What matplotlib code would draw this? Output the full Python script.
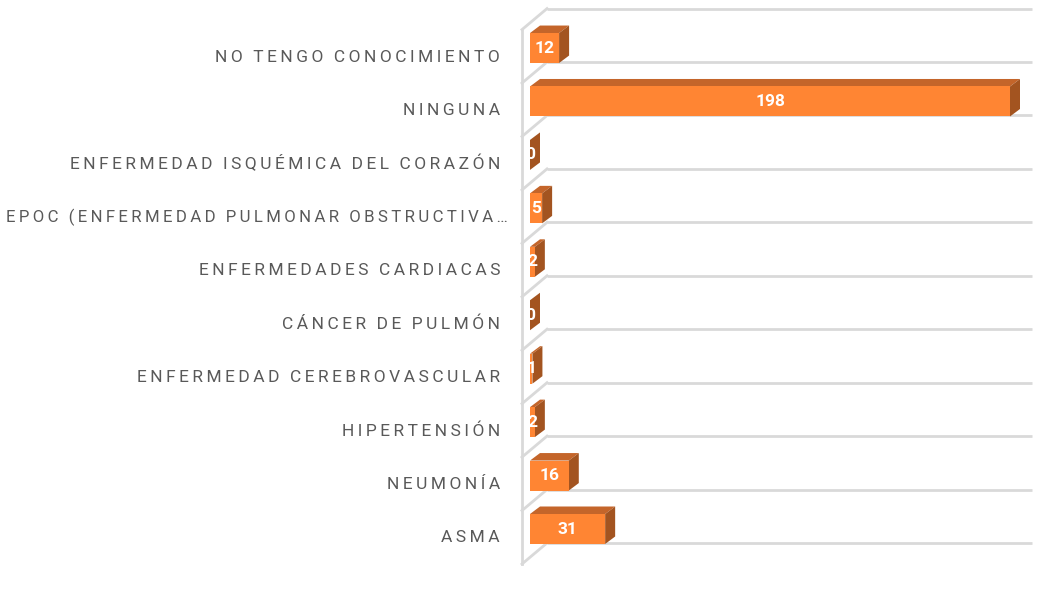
import matplotlib
matplotlib.use('Agg')
import matplotlib.pyplot as plt
from matplotlib.patches import Polygon, Rectangle

categories = ['ASMA', 'NEUMONÍA', 'HIPERTENSIÓN', 'ENFERMEDAD CEREBROVASCULAR',
              'CÁNCER DE PULMÓN', 'ENFERMEDADES CARDIACAS',
              'EPOC (ENFERMEDAD PULMONAR OBSTRUCTIVA…',
              'ENFERMEDAD ISQUÉMICA DEL CORAZÓN', 'NINGUNA', 'NO TENGO CONOCIMIENTO']
values = [31, 16, 2, 1, 0, 2, 5, 0, 198, 12]
axis_max = 200

W, H = 1058, 597
fig = plt.figure(figsize=(W / 100, H / 100), dpi=100)
ax = fig.add_axes([0, 0, 1, 1])
ax.axis('off')

# pixel scale: value 0 at x=530, 198 at x=1010; category pitch 53.44 px
kx = 480 / 198.0
ky = 53.44
x0_px, y0_px = 530, 529
ax.set_xlim(-x0_px / kx, (W - x0_px) / kx)
ax.set_ylim((y0_px - H) / ky, y0_px / ky)

front = '#FF8533'
top = '#C4652A'
side = '#A35420'
grid = '#D9D9D9'

# depth of the boxes and of the back wall
dx, dy = 10 / kx, 7.5 / ky
half = 15 / ky
wall_dx, wall_dy = 25 / kx, 21 / ky
floor = -half + 1 / ky          # back gridline level relative to category
back_x0 = 17 / kx

n = len(categories)
for k in range(n + 1):
    yb = k + floor
    ax.plot([back_x0, axis_max + back_x0], [yb, yb], color=grid, lw=2,
            solid_capstyle='butt', zorder=1)
    ax.plot([back_x0 - wall_dx, back_x0], [yb - wall_dy, yb], color=grid, lw=2,
            zorder=1)
ax.plot([back_x0 - wall_dx] * 2, [floor - wall_dy, n + floor - wall_dy],
        color=grid, lw=2, zorder=1)


def spread(s):
    # rough letter spacing with thin spaces
    return '\u2009\u2009\u2009'.join('\u2009'.join(w) for w in s.split(' '))


for i, (cat, v) in enumerate(zip(categories, values)):
    yl, yh = i - half, i + half
    ax.add_patch(Polygon([(0, yh), (v, yh), (v + dx, yh + dy), (dx, yh + dy)],
                         closed=True, fc=top, ec='none', zorder=3))
    ax.add_patch(Polygon([(v, yl), (v + dx, yl + dy), (v + dx, yh + dy), (v, yh)],
                         closed=True, fc=side, ec='none', zorder=3))
    ax.add_patch(Rectangle((0, yl), v, 2 * half, fc=front, ec='none', zorder=4))
    ax.text(v / 2, i, str(v), color='white', fontsize=12.5, fontweight='bold',
            ha='center', va='center', family=['Roboto', 'DejaVu Sans'],
            zorder=5)
    # truncated label sticks out a bit further right, like the original
    trunc = cat.endswith('…')
    ax.text((-30 + 8 * trunc) / kx, i - 9 / ky, spread(cat), color='#595959',
            fontsize=12.1 if trunc else 12.5,
            ha='right', va='center', family=['Roboto', 'DejaVu Sans'], zorder=5)

fig.savefig('out.png', dpi=100)
